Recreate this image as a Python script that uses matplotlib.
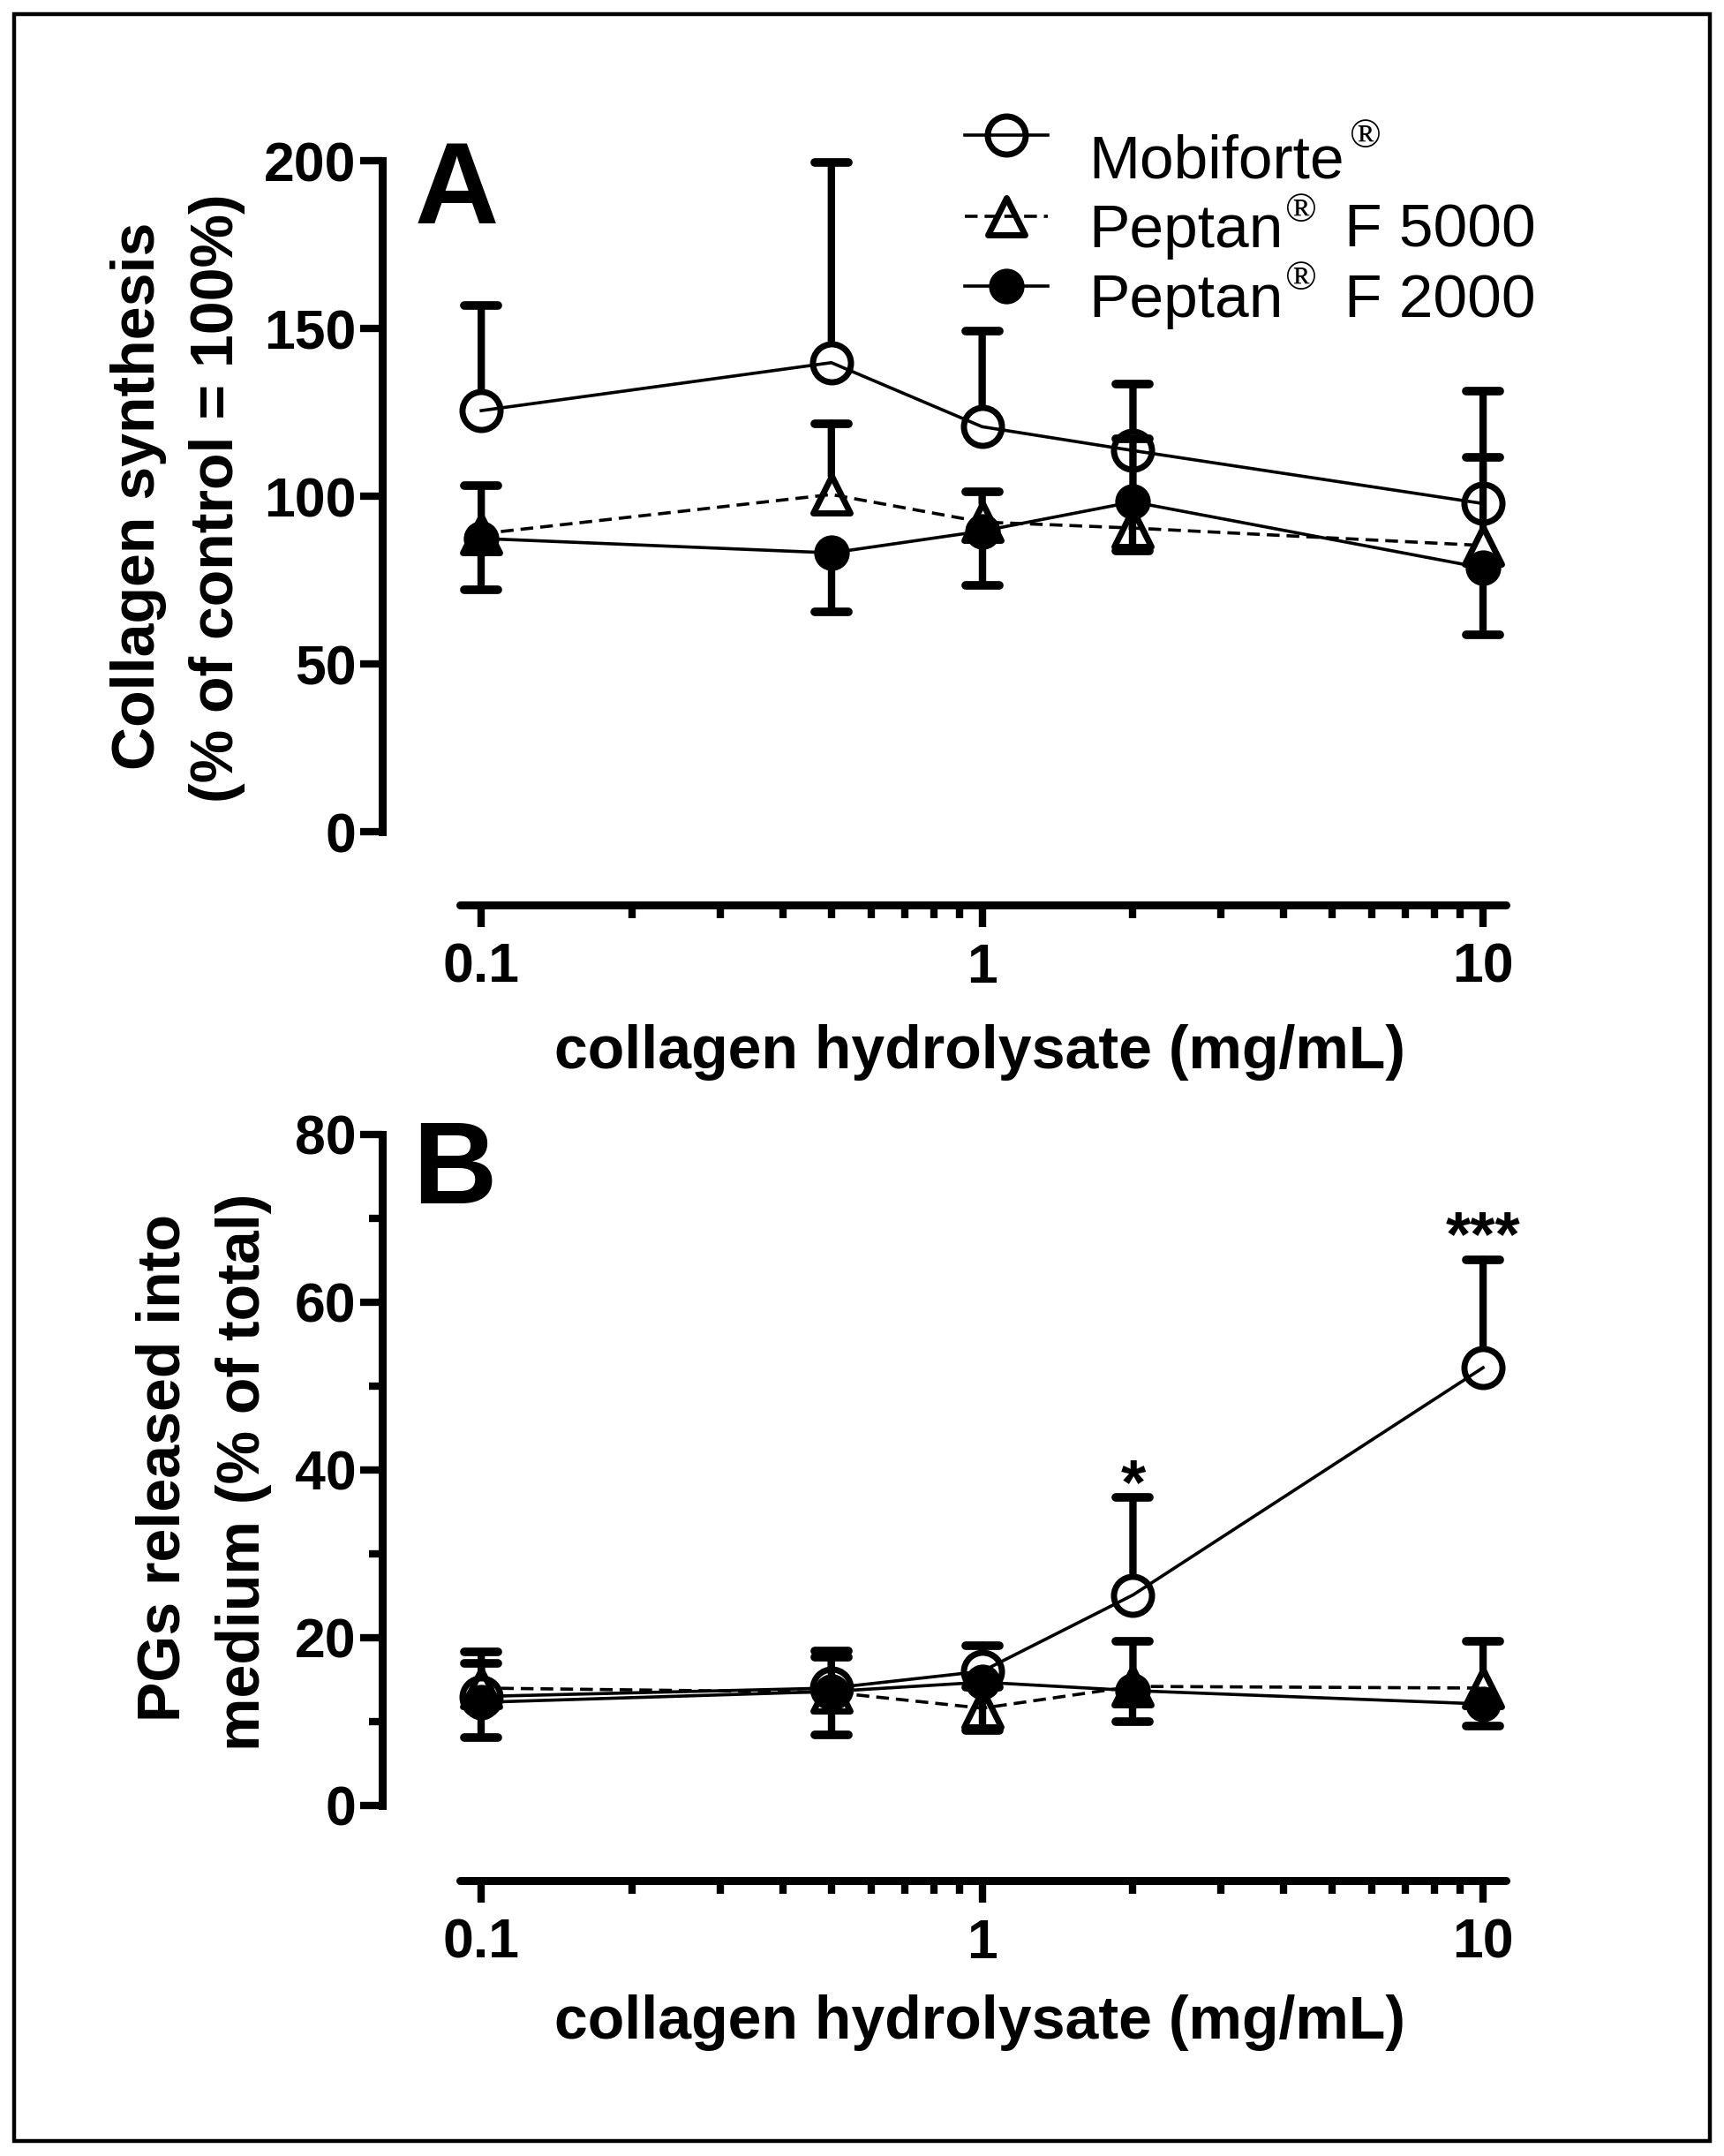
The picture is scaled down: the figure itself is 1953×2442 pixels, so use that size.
import matplotlib
matplotlib.use("Agg")
import matplotlib.pyplot as plt
from matplotlib.markers import MarkerStyle
from matplotlib.patches import Rectangle
from matplotlib.lines import Line2D
from matplotlib.ticker import NullFormatter
import numpy as np

plt.rcParams['font.family'] = ['Liberation Sans', 'DejaVu Sans']
plt.rcParams['font.weight'] = 'bold'

# ---------------- data ----------------
conc = [0.1, 0.5, 1, 2, 10]
series_names = ["Mobiforte", "Peptan", "Peptan"]
series_suffix = ["", "F 5000", "F 2000"]

A_mobi = [125.5, 139.8, 120.7, 113.6, 97.8]
A_mobi_err = [31.3, 59.6, 28.5, 19.7, 33.5]
A_f5000 = [88.8, 100.5, 92.3, 90.5, 85.3]
A_f5000_err = [14.3, 21.2, 9.0, 26.5, 26.4]
A_f2000 = [87.4, 83.1, 89.6, 98.3, 78.6]
A_f2000_err = [15.4, 17.6, 16.2, 14.5, 20.0]

B_mobi = [13.0, 14.0, 16.0, 25.1, 52.2]
B_mobi_err = [5.3, 4.4, 3.1, 11.6, 12.9]
B_f5000 = [14.0, 13.5, 11.6, 14.2, 14.0]
B_f5000_err = [3.0, 4.2, 2.5, 5.4, 5.6]
B_f2000 = [12.3, 13.6, 14.7, 13.7, 12.1]
B_f2000_err = [4.2, 5.2, 5.8, 3.7, 2.6]

sig_x = [2, 10]
sig_text = ["*", "***"]
sig_y = [36.0, 65.6]

x_ticks = [0.1, 1, 10]
x_ticklabels = ["0.1", "1", "10"]
x_minor = [0.2, 0.3, 0.4, 0.5, 0.6, 0.7, 0.8, 0.9, 2, 3, 4, 5, 6, 7, 8, 9]
A_yticks = [0, 50, 100, 150, 200]
B_yticks = [0, 20, 40, 60, 80]
B_yminor = [10, 30, 50, 70]

# ---------------- figure ----------------
W, H = 1953, 2442
fig = plt.figure(figsize=(W / 100, H / 100), dpi=100)

ov = fig.add_axes([0, 0, 1, 1], zorder=0)
ov.set_xlim(0, W)
ov.set_ylim(H, 0)
ov.axis('off')
ov.add_patch(Rectangle((16, 16), 1921, 2409, fill=False, lw=3.2, ec='black'))

LW_AX = 6.5
LW_LINE = 2.6
LW_ERR = 6.0
MS_O = 31
MS_T = 30
MS_F = 27
MEW = 5.0
CAP_MS = 28
CAP_MEW = 7.0

cap_marker = MarkerStyle('_', capstyle='round')
tri_marker = MarkerStyle('^', joinstyle='round')
dash = (0, (4.0, 2.2))


def setup_axes(rect, ylim, yticks, yminor, outward_px):
    ax = fig.add_axes(rect, zorder=2)
    ax.set_facecolor('none')
    ax.set_xscale('log')
    ax.set_xlim(0.06343, 11.2)
    ax.set_ylim(*ylim)
    for s in ['top', 'right']:
        ax.spines[s].set_visible(False)
    ax.spines['left'].set_linewidth(LW_AX)
    ax.spines['bottom'].set_linewidth(LW_AX)
    ax.spines['bottom'].set_capstyle('round')
    ax.spines['bottom'].set_position(('outward', outward_px * 0.72))
    ax.spines['bottom'].set_bounds(0.0905, 11.1)
    ax.set_xticks(x_ticks, x_ticklabels)
    ax.set_xticks(x_minor, minor=True)
    ax.xaxis.set_minor_formatter(NullFormatter())
    ax.set_yticks(yticks)
    if yminor:
        ax.set_yticks(yminor, minor=True)
    ax.tick_params(axis='both', which='major', direction='out', length=18, width=6,
                   labelsize=45)
    ax.tick_params(axis='both', which='minor', direction='out', length=11, width=6)
    ax.tick_params(axis='y', pad=3)
    ax.tick_params(axis='x', pad=12)
    return ax


def draw_series(ax, y_m, e_m, y_5, e_5, y_2, e_2):
    x = np.array(conc)
    y_m, e_m = np.array(y_m), np.array(e_m)
    y_5, e_5 = np.array(y_5), np.array(e_5)
    y_2, e_2 = np.array(y_2), np.array(e_2)
    # F5000 dashed, open triangles, error upwards
    ax.plot(x, y_5, color='black', lw=LW_LINE, ls=dash, marker=tri_marker, ms=MS_T,
            mfc='none', mec='black', mew=MEW, clip_on=False, zorder=3)
    for xi, yi, ei in zip(x, y_5, e_5):
        ax.annotate('', xy=(xi, yi + ei), xytext=(xi, yi), xycoords='data',
                    arrowprops=dict(arrowstyle='-', lw=LW_ERR, color='black',
                                    shrinkA=15, shrinkB=0),
                    annotation_clip=False, zorder=3)
    ax.plot(x, y_5 + e_5, ls='none', marker=cap_marker, ms=CAP_MS, mew=CAP_MEW,
            color='black', clip_on=False, zorder=3)
    # Mobiforte solid, open circles, error upwards
    ax.plot(x, y_m, color='black', lw=LW_LINE, marker='o', ms=MS_O,
            mfc='none', mec='black', mew=MEW, clip_on=False, zorder=4)
    for xi, yi, ei in zip(x, y_m, e_m):
        ax.annotate('', xy=(xi, yi + ei), xytext=(xi, yi), xycoords='data',
                    arrowprops=dict(arrowstyle='-', lw=LW_ERR, color='black',
                                    shrinkA=17.5, shrinkB=0),
                    annotation_clip=False, zorder=4)
    ax.plot(x, y_m + e_m, ls='none', marker=cap_marker, ms=CAP_MS, mew=CAP_MEW,
            color='black', clip_on=False, zorder=4)
    # F2000 solid, filled circles, error downwards
    ax.vlines(x, y_2 - e_2, y_2, color='black', lw=LW_ERR, clip_on=False, zorder=5)
    ax.plot(x, y_2 - e_2, ls='none', marker=cap_marker, ms=CAP_MS, mew=CAP_MEW,
            color='black', clip_on=False, zorder=5)
    ax.plot(x, y_2, color='black', lw=LW_LINE, marker='o', ms=MS_F,
            mfc='black', mec='black', mew=2, clip_on=False, zorder=5)


axA = setup_axes([433 / W, 1 - 942 / H, 1275 / W, 760 / H], (0, 200), A_yticks, None, 83)
axB = setup_axes([433 / W, 1 - 2045 / H, 1275 / W, 760 / H], (0, 80), B_yticks, B_yminor, 85)

draw_series(axA, A_mobi, A_mobi_err, A_f5000, A_f5000_err, A_f2000, A_f2000_err)
draw_series(axB, B_mobi, B_mobi_err, B_f5000, B_f5000_err, B_f2000, B_f2000_err)

for xs, t, ys in zip(sig_x, sig_text, sig_y):
    axB.text(xs, ys, t, ha='center', va='baseline', fontsize=52, fontweight='bold',
             clip_on=False)

# ---------------- labels in pixel coordinates ----------------
ov.text(470, 253, 'A', fontsize=95, fontweight='bold', va='baseline', ha='left')
ov.text(467, 1363, 'B', fontsize=95, fontweight='bold', va='baseline', ha='left')

ylab_kw = dict(rotation=90, ha='center', va='center', fontsize=49, fontweight='bold')
ov.text(157, 562, 'Collagen synthesis', **ylab_kw)
ov.text(246, 564, '(% of control = 100%)', **ylab_kw)
ov.text(185, 1663, 'PGs released into', **ylab_kw)
ov.text(276, 1667, 'medium (% of total)', **ylab_kw)

xlab_kw = dict(ha='center', va='baseline', fontsize=49, fontweight='bold')
ov.text(1110, 1210, 'collagen hydrolysate (mg/mL)', **xlab_kw)
ov.text(1110, 2309, 'collagen hydrolysate (mg/mL)', **xlab_kw)

# ---------------- legend ----------------
leg_y = [153, 245, 324]
leg_base = [202, 280, 359]
reg_pos = [(1547, 167), (1474, 251), (1474, 328)]
ov.add_line(Line2D([1093, 1187], [leg_y[0], leg_y[0]], color='black', lw=LW_LINE))
ov.plot([1140], [leg_y[0]], marker='o', ms=MS_O, mfc='none', mec='black', mew=MEW)
ov.add_line(Line2D([1093, 1187], [leg_y[1], leg_y[1]], color='black', lw=LW_LINE, ls=dash))
ov.plot([1140], [leg_y[1]], marker=tri_marker, ms=MS_T, mfc='none', mec='black', mew=MEW)
ov.add_line(Line2D([1093, 1187], [leg_y[2], leg_y[2]], color='black', lw=LW_LINE))
ov.plot([1140], [leg_y[2]], marker='o', ms=MS_F, mfc='black', mec='black', mew=2)

for i in range(3):
    ov.text(1233, leg_base[i], series_names[i], fontsize=50, fontweight='normal',
            va='baseline', ha='left')
    ov.text(reg_pos[i][0], reg_pos[i][1], '\u00ae', fontsize=34, fontweight='normal',
            family=['Liberation Serif', 'DejaVu Serif'], ha='center', va='baseline')
    if series_suffix[i]:
        ov.text(1523, leg_base[i], series_suffix[i], fontsize=50, fontweight='normal',
                va='baseline', ha='left')

fig.savefig('out.png', dpi=100, facecolor='white')
